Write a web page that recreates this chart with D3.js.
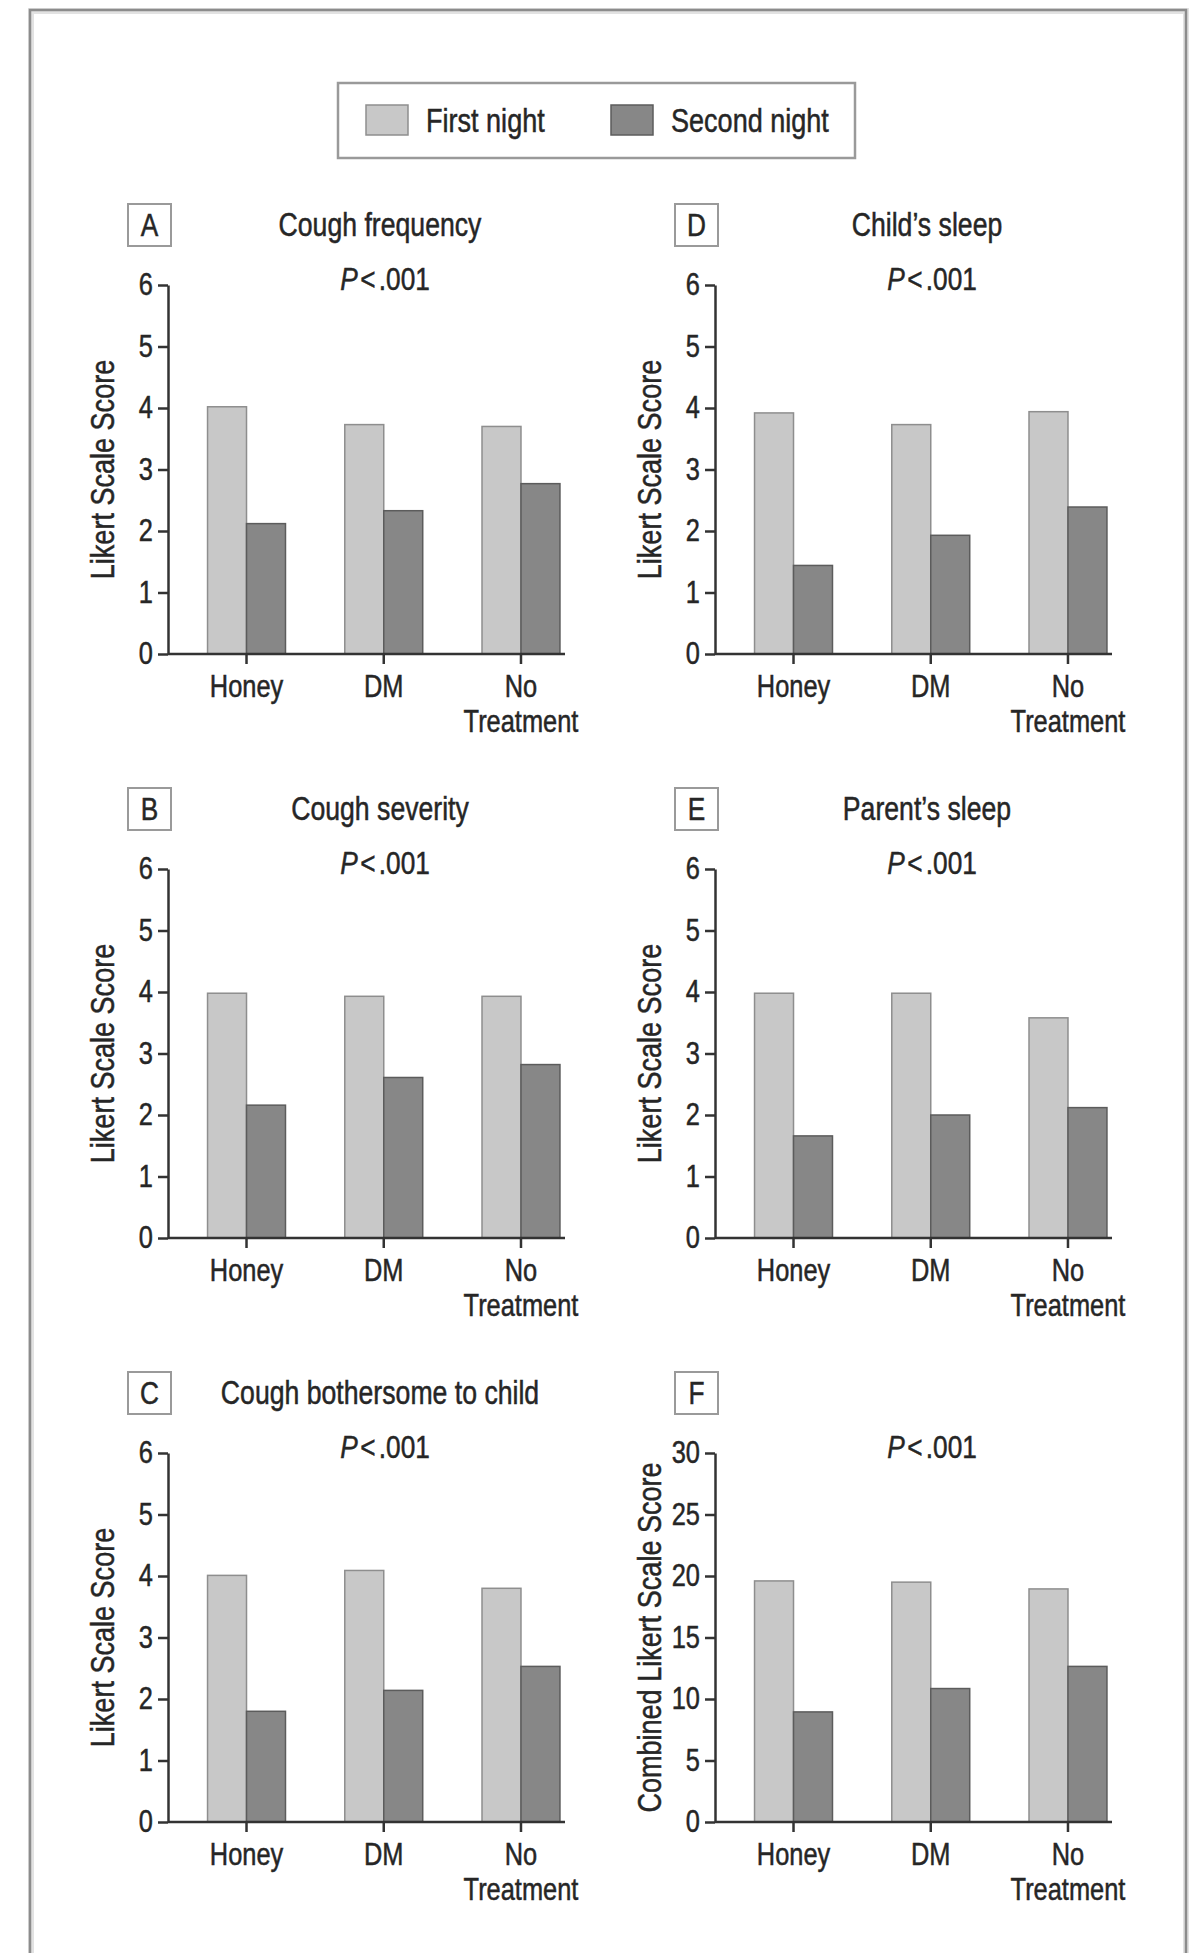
<!DOCTYPE html>
<html>
<head>
<meta charset="utf-8">
<script src="https://cdn.jsdelivr.net/npm/d3@7"></script>
<style>
  body { margin: 0; background: #fff; }
  text { font-family: "Liberation Sans", Arial, sans-serif; fill: #262626; stroke: #262626; stroke-width: 0.5px; }
</style>
</head>
<body>
<script>
const groups = ["Honey", "DM", "No Treatment"];
const groupLines = [["Honey"], ["DM"], ["No", "Treatment"]];
const seriesNames = ["First night", "Second night"];

const panelLetters = ["A", "B", "C", "D", "E", "F"];
const panelTitles = ["Cough frequency", "Cough severity", "Cough bothersome to child",
                     "Child\u2019s sleep", "Parent\u2019s sleep", ""];
const yTitles = ["Likert Scale Score", "Likert Scale Score", "Likert Scale Score",
                 "Likert Scale Score", "Likert Scale Score", "Combined Likert Scale Score"];
const likertTicks = [0, 1, 2, 3, 4, 5, 6];
const combinedTicks = [0, 5, 10, 15, 20, 25, 30];

// one row per panel (A..F), one value per group
const firstNight = [
  [4.02, 3.73, 3.70],
  [3.98, 3.93, 3.93],
  [4.01, 4.09, 3.80],
  [3.92, 3.73, 3.94],
  [3.98, 3.98, 3.58],
  [19.6, 19.5, 18.95]
];
const secondNight = [
  [2.12, 2.33, 2.77],
  [2.16, 2.61, 2.82],
  [1.80, 2.14, 2.53],
  [1.44, 1.93, 2.39],
  [1.66, 2.00, 2.12],
  [8.95, 10.85, 12.65]
];

const width = 1198, height = 1953;
const colX = [168, 715];
const rowY = [285, 869, 1453];
const plotW = 397, plotH = 369;
const fills = ["#c8c8c8", "#878787"];
const strokes = ["#8e8e8e", "#5c5c5c"];
const narrow = 0.82; // condensed look from Liberation Sans

const svg = d3.select("body").append("svg")
    .attr("width", width)
    .attr("height", height);

// condensed text helper
function ntext(parent, x, y, size, str, anchor = "middle", rot = 0) {
  return parent.append("text")
      .attr("transform", `translate(${x},${y})${rot ? ` rotate(${rot})` : ""} scale(${narrow},1)`)
      .attr("text-anchor", anchor)
      .style("font-size", size + "px")
      .text(str);
}

// outer frame (no bottom edge visible)
svg.append("path")
    .attr("d", "M31,1953V11H1186V1953")
    .attr("fill", "none")
    .attr("stroke", "#e2e2e2")
    .attr("stroke-width", 6);
svg.append("path")
    .attr("d", "M30,1953V10H1186V1953")
    .attr("fill", "none")
    .attr("stroke", "#8c8c8c")
    .attr("stroke-width", 2.5);

// legend
const legend = svg.append("g");
legend.append("rect")
    .attr("x", 338).attr("y", 83).attr("width", 517).attr("height", 75)
    .attr("fill", "#fff").attr("stroke", "#9a9a9a").attr("stroke-width", 2.5);
const legendX = [366, 611];
seriesNames.forEach((s, i) => {
  legend.append("rect")
      .attr("x", legendX[i]).attr("y", 105).attr("width", 42).attr("height", 30)
      .attr("fill", fills[i]).attr("stroke", strokes[i]).attr("stroke-width", 1.5);
  ntext(legend, legendX[i] + 60, 132, 33, s, "start");
});

panelLetters.forEach((letter, i) => {
  const col = i < 3 ? 0 : 1;
  const row = i % 3;
  const left = colX[col];
  const top = rowY[row];
  const bottom = top + plotH;
  const ticks = i === 5 ? combinedTicks : likertTicks;

  const y = d3.scaleLinear([0, d3.max(ticks)], [bottom, top]);
  const x0 = d3.scaleBand(groups, [left + 78.5 - 68.6, left + 353 + 68.6])
      .paddingInner(0.432).paddingOuter(0.216);
  const x1 = d3.scaleBand(seriesNames, [0, x0.bandwidth()]);

  const g = svg.append("g");

  // bars
  const rows = groups.map((grp, j) => ({grp, values: [firstNight[i][j], secondNight[i][j]]}));
  g.append("g")
    .selectAll("g")
    .data(rows)
    .join("g")
      .attr("transform", d => `translate(${x0(d.grp)},0)`)
    .selectAll("rect")
    .data(d => d.values.map((v, k) => ({k, v})))
    .join("rect")
      .attr("x", d => x1(seriesNames[d.k]))
      .attr("y", d => y(d.v))
      .attr("width", x1.bandwidth())
      .attr("height", d => y(0) - y(d.v))
      .attr("fill", d => fills[d.k])
      .attr("stroke", d => strokes[d.k])
      .attr("stroke-width", 1.5);

  // y axis
  g.append("g")
      .attr("transform", `translate(${left},0)`)
      .call(d3.axisLeft(y).tickValues(ticks).tickFormat(d3.format("d"))
          .tickSize(10).tickSizeOuter(0).tickPadding(5))
      .call(a => a.selectAll("path,line").attr("stroke", "#333").attr("stroke-width", 2.5))
      .call(a => a.selectAll("text")
          .attr("x", -15 / narrow)
          .attr("transform", `scale(${narrow},1)`)
          .attr("fill", "#262626")
          .style("font-size", "31px")
          .style("font-family", null));

  // x axis
  g.append("g")
      .attr("transform", `translate(0,${bottom})`)
      .call(d3.axisBottom(x0).tickSize(10).tickFormat(""))
      .call(a => a.select(".domain").remove())
      .call(a => a.selectAll("line").attr("stroke", "#333").attr("stroke-width", 2.5));
  g.append("line")
      .attr("x1", left).attr("x2", left + plotW)
      .attr("y1", bottom).attr("y2", bottom)
      .attr("stroke", "#333").attr("stroke-width", 2.5);

  groups.forEach((grp, j) => {
    groupLines[j].forEach((line, k) => {
      ntext(g, x0(grp) + x0.bandwidth() / 2, bottom + 43 + k * 35, 31, line);
    });
  });

  // y axis title
  ntext(g, left - 66, (top + bottom) / 2, 33, yTitles[i], "middle", -90)
      .attr("dy", "0.35em");

  // panel letter box
  g.append("rect")
      .attr("x", left - 40).attr("y", top - 81).attr("width", 43).attr("height", 42)
      .attr("fill", "#fff").attr("stroke", "#9a9a9a").attr("stroke-width", 2);
  ntext(g, left - 18.5, top - 49, 32, letter);

  // panel title and P value
  if (panelTitles[i]) {
    ntext(g, left + 212, top - 49, 32.5, panelTitles[i]);
  }
  const p = ntext(g, left + 217, top + 5, 32, "");
  p.append("tspan").style("font-style", "italic").text("P");
  p.append("tspan").attr("dx", 3).text("<");
  p.append("tspan").attr("dx", 4).text(".001");
});
</script>
</body>
</html>
